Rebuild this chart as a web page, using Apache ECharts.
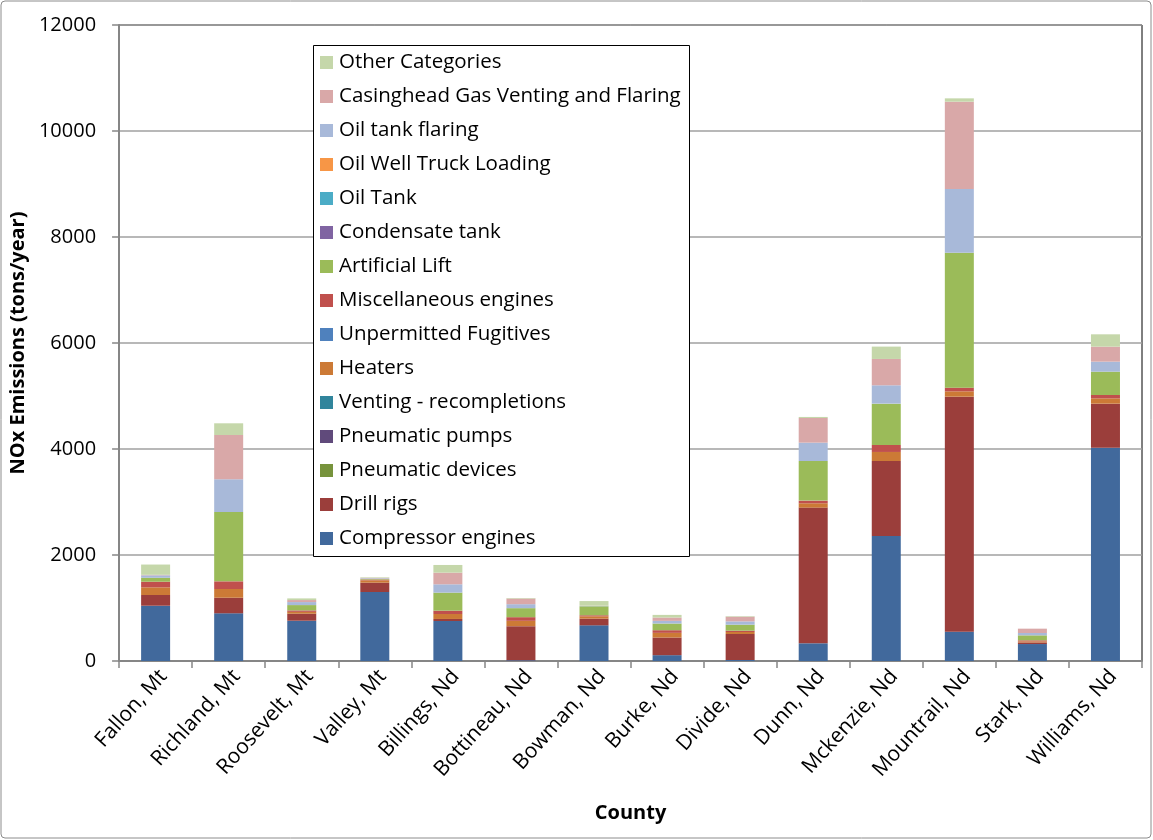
<!DOCTYPE html>
<html>
<head>
<meta charset="utf-8">
<script src="https://cdn.jsdelivr.net/npm/echarts@6/dist/echarts.min.js"></script>
<style>
  html, body { margin: 0; padding: 0; background: #fff; }
  #chart { width: 1153px; height: 840px; }
</style>
</head>
<body>
<div id="chart"></div>
<script>
// Counties along the x axis
const counties = ['Fallon, Mt', 'Richland, Mt', 'Roosevelt, Mt', 'Valley, Mt', 'Billings, Nd',
  'Bottineau, Nd', 'Bowman, Nd', 'Burke, Nd', 'Divide, Nd', 'Dunn, Nd',
  'Mckenzie, Nd', 'Mountrail, Nd', 'Stark, Nd', 'Williams, Nd'];

// NOx emissions by source category (tons/year), one value per county
const compressorEngines   = [1043, 900, 760, 1302, 755, 15, 673, 110, 19, 334, 2359, 553, 320, 4025];
const drillRigs           = [202, 294, 132, 176, 38, 642, 126, 333, 490, 2560, 1415, 4434, 30, 830];
const pneumaticDevices    = [0, 0, 0, 0, 0, 0, 0, 0, 0, 0, 0, 0, 0, 0];
const pneumaticPumps      = [0, 0, 0, 0, 0, 0, 0, 0, 0, 0, 0, 0, 0, 0];
const ventingRecompletions= [0, 0, 0, 0, 0, 0, 0, 0, 0, 0, 0, 0, 0, 0];
const heaters             = [145, 164, 35, 44, 94, 101, 44, 88, 38, 82, 170, 101, 20, 101];
const unpermittedFugitives= [0, 0, 0, 0, 0, 0, 0, 0, 0, 0, 0, 0, 0, 0];
const miscEngines         = [106, 145, 28, 15, 63, 69, 20, 50, 25, 50, 132, 69, 20, 63];
const artificialLift      = [75, 1308, 100, 12, 340, 170, 170, 126, 113, 748, 780, 2547, 94, 440];
const condensateTank      = [0, 0, 0, 0, 0, 0, 0, 0, 0, 0, 0, 0, 0, 0];
const oilTank             = [0, 0, 0, 0, 0, 0, 0, 0, 0, 0, 0, 0, 0, 0];
const oilWellTruckLoading = [0, 0, 0, 0, 0, 0, 0, 0, 0, 0, 0, 0, 0, 0];
const oilTankFlaring      = [45, 617, 57, 12, 157, 75, 5, 50, 63, 346, 346, 1201, 44, 189];
const casingheadGas       = [10, 836, 38, 8, 220, 107, 5, 63, 88, 465, 497, 1648, 82, 283];
const otherCategories     = [194, 221, 31, 10, 145, 10, 88, 50, 10, 20, 233, 63, 0, 233];

// Y axis ticks
const yTicks = [0, 2000, 4000, 6000, 8000, 10000, 12000];

const seriesDefs = [
  ['Compressor engines', compressorEngines, '#41699C'],
  ['Drill rigs', drillRigs, '#9B3E3B'],
  ['Pneumatic devices', pneumaticDevices, '#77933C'],
  ['Pneumatic pumps', pneumaticPumps, '#604A7B'],
  ['Venting - recompletions', ventingRecompletions, '#31859C'],
  ['Heaters', heaters, '#CC7A36'],
  ['Unpermitted Fugitives', unpermittedFugitives, '#4F81BD'],
  ['Miscellaneous engines', miscEngines, '#C0504D'],
  ['Artificial Lift', artificialLift, '#9BBB59'],
  ['Condensate tank', condensateTank, '#8064A2'],
  ['Oil Tank', oilTank, '#4BACC6'],
  ['Oil Well Truck Loading', oilWellTruckLoading, '#F79646'],
  ['Oil tank flaring', oilTankFlaring, '#A8B9D9'],
  ['Casinghead Gas Venting and Flaring', casingheadGas, '#D9A8A8'],
  ['Other Categories', otherCategories, '#C5D7AA']
];

const FONT = '"Open Sans", "Liberation Sans", sans-serif';

const chart = echarts.init(document.getElementById('chart'), null, { renderer: 'canvas' });

chart.setOption({
  animation: false,
  backgroundColor: '#fff',
  textStyle: { fontFamily: FONT },
  graphic: [
    { type: 'rect', shape: { x: 1, y: 1, width: 1150, height: 837, r: 4 },
      style: { fill: 'none', stroke: '#8C8C8C', lineWidth: 1 }, z: 0 },
    { type: 'rect', shape: { x: 313.5, y: 45.5, width: 376, height: 511 },
      style: { fill: '#fff', stroke: '#000', lineWidth: 1 }, z: 10 }
  ],
  grid: {
    left: 118, right: 11, top: 25, bottom: 179,
    show: true, borderColor: '#000', borderWidth: 1, backgroundColor: 'transparent'
  },
  legend: {
    data: seriesDefs.map(d => d[0]).reverse(),
    orient: 'vertical',
    left: 314, top: 52,
    padding: [0, 0, 0, 6],
    itemWidth: 13, itemHeight: 13,
    itemGap: 13,
    icon: 'rect',
    z: 20,
    textStyle: { fontFamily: FONT, fontSize: 20.5, color: '#000', lineHeight: 20, padding: [0, 0, 0, 1] }
  },
  xAxis: {
    type: 'category',
    data: counties,
    name: 'County',
    nameLocation: 'middle',
    nameGap: 142,
    nameTextStyle: { fontFamily: FONT, fontSize: 20, fontWeight: 'bold', color: '#000' },
    axisLine: { lineStyle: { color: '#868686', width: 2 } },
    axisTick: { show: true, alignWithLabel: false, length: 7, lineStyle: { color: '#868686', width: 1.5 } },
    axisLabel: { rotate: 48, fontSize: 21, color: '#000', margin: 5, interval: 0, verticalAlign: 'top' },
    splitLine: { show: false }
  },
  yAxis: {
    type: 'value',
    min: yTicks[0], max: yTicks[yTicks.length - 1], interval: yTicks[1] - yTicks[0],
    name: 'NOx Emissions (tons/year)',
    nameLocation: 'middle',
    nameGap: 68,
    nameRotate: 90,
    nameTextStyle: { fontFamily: FONT, fontSize: 20, fontWeight: 'bold', color: '#000' },
    axisLine: { show: true, lineStyle: { color: '#868686', width: 2 } },
    axisTick: { show: true, length: 7, lineStyle: { color: '#868686', width: 1.5 } },
    axisLabel: { fontSize: 20, color: '#000', margin: 23, formatter: v => String(v) },
    splitLine: { lineStyle: { color: '#A0A0A0', width: 1.5 } }
  },
  series: seriesDefs.map(([name, values, color]) => ({
    name,
    type: 'bar',
    stack: 'nox',
    data: values,
    barWidth: 29,
    itemStyle: { color },
    emphasis: { disabled: true }
  }))
});
</script>
</body>
</html>
